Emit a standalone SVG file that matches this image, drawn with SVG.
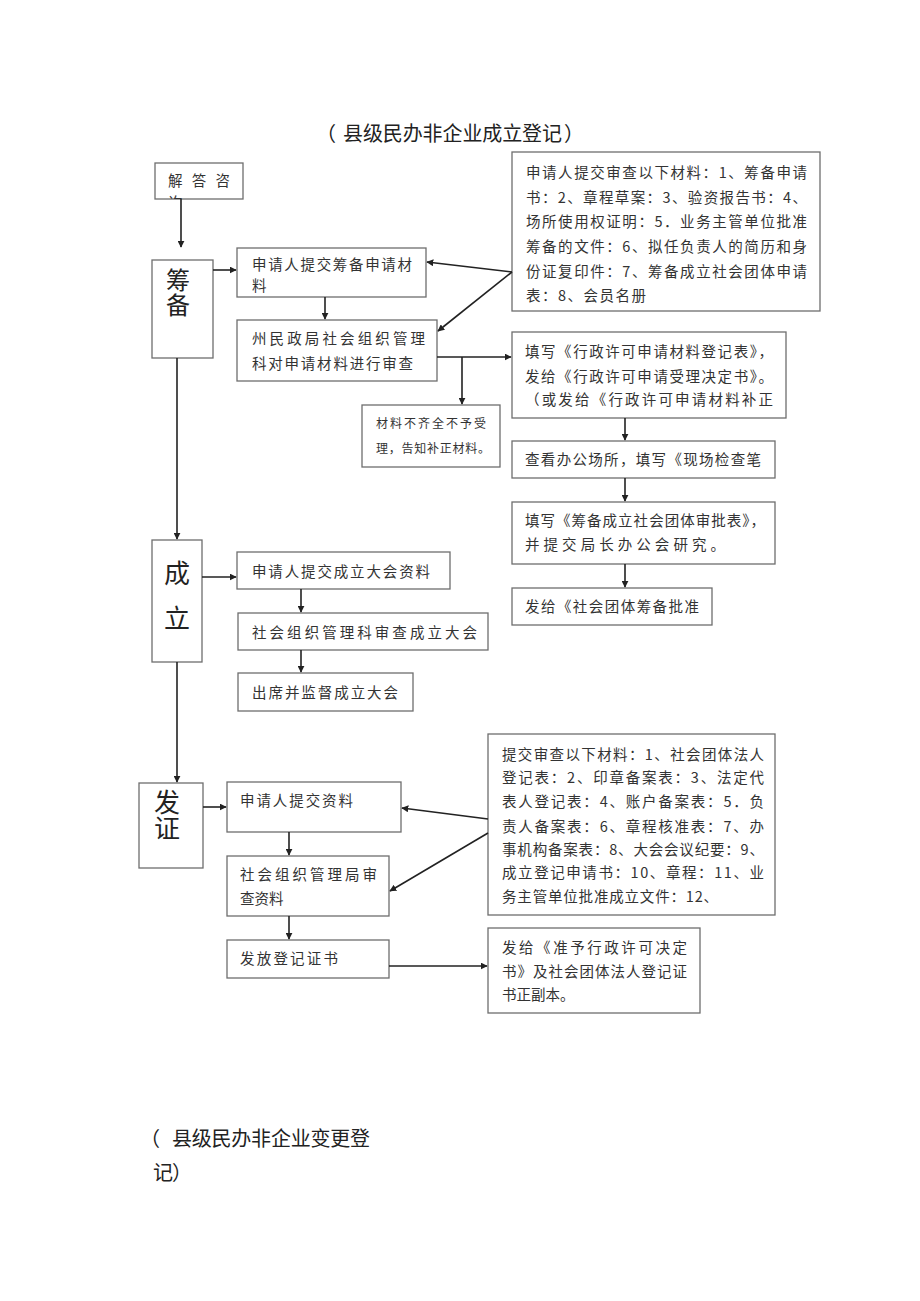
<svg xmlns="http://www.w3.org/2000/svg" width="920" height="1301" viewBox="0 0 920 1301">
<style>
.bx{fill:#fff;stroke:#6e6e6e;stroke-width:1.3}
.t{font-family:"Noto Sans CJK SC","Liberation Serif",serif;font-size:14.5px;fill:#333}
.sm{font-family:"Noto Sans CJK SC",serif;font-size:12px;fill:#333}
.s{font-family:"Noto Sans CJK SC",sans-serif;fill:#222}
.v{font-family:"Noto Sans CJK SC",sans-serif;fill:#222;writing-mode:tb;text-orientation:upright}
.ca{stroke:#222;stroke-width:1.6;fill:none;marker-end:url(#ah)}
</style>
<defs>
<marker id="ah" viewBox="0 0 10 10" refX="9" refY="5" markerWidth="7" markerHeight="7" markerUnits="userSpaceOnUse" orient="auto">
<path d="M0,0 L10,5 L0,10 z" fill="#222"/>
</marker>
<clipPath id="clipq"><rect x="155" y="163" width="88" height="36"/></clipPath>
</defs>
<rect width="920" height="1301" fill="#fff"/>
<g id="title">
<text class="s" x="316" y="141" font-size="20">（</text>
<text class="s" x="343" y="141" font-size="20" textLength="219">县级民办非企业成立登记</text>
<text class="s" x="564" y="141" font-size="20">）</text>
</g>

<g id="n-jieda">
<rect class="bx" x="155" y="163" width="88" height="36"/>
<g clip-path="url(#clipq)">
<text class="t" x="168" y="186" textLength="62">解答咨</text>
<text class="t" x="168" y="208">询</text>
</g>
</g>

<g id="n-choubei">
<rect class="bx" x="152" y="260" width="61" height="98"/>
<text class="v" x="178" y="268" font-size="24" letter-spacing="1">筹备</text>
</g>

<g id="n-sub1">
<rect class="bx" x="237" y="248" width="189" height="49"/>
<text class="t" x="252" y="270" textLength="160">申请人提交筹备申请材</text>
<text class="t" x="252" y="291">料</text>
</g>

<g id="n-mat1">
<rect class="bx" x="512" y="152" width="308" height="159"/>
<text class="t" x="526" y="178" textLength="281">申请人提交审查以下材料：1、筹备申请</text>
<text class="t" x="526" y="203" textLength="281">书：2、章程草案：3、验资报告书：4、</text>
<text class="t" x="526" y="227" textLength="281">场所使用权证明：5．业务主管单位批准</text>
<text class="t" x="526" y="252" textLength="281">筹备的文件：6、拟任负责人的简历和身</text>
<text class="t" x="526" y="277" textLength="281">份证复印件：7、筹备成立社会团体申请</text>
<text class="t" x="526" y="301" textLength="120">表：8、会员名册</text>
</g>

<g id="n-review1">
<rect class="bx" x="237" y="320" width="200" height="61"/>
<text class="t" x="252" y="344" textLength="173">州民政局社会组织管理</text>
<text class="t" x="252" y="369" textLength="161">科对申请材料进行审查</text>
</g>

<g id="n-reject">
<rect class="bx" x="362" y="405" width="138" height="62"/>
<text class="sm" x="376" y="428" textLength="110">材料不齐全不予受</text>
<text class="sm" x="376" y="453" textLength="114">理，告知补正材料。</text>
</g>

<g id="n-fill1">
<rect class="bx" x="512" y="332" width="274" height="86"/>
<text class="t" x="525" y="357" textLength="248">填写《行政许可申请材料登记表》，</text>
<text class="t" x="525" y="382" textLength="248">发给《行政许可申请受理决定书》。</text>
<text class="t" x="525" y="405" textLength="248">（或发给《行政许可申请材料补正</text>
</g>

<g id="n-check">
<rect class="bx" x="512" y="441" width="263" height="37"/>
<text class="t" x="525" y="465" textLength="236">查看办公场所，填写《现场检查笔</text>
</g>

<g id="n-fill2">
<rect class="bx" x="512" y="502" width="263" height="62"/>
<text class="t" x="525" y="526" textLength="240">填写《筹备成立社会团体审批表》，</text>
<text class="t" x="525" y="550" textLength="200">并提交局长办公会研究。</text>
</g>

<g id="n-approve">
<rect class="bx" x="512" y="588" width="200" height="37"/>
<text class="t" x="525" y="612" textLength="174">发给《社会团体筹备批准</text>
</g>

<g id="n-chengli">
<rect class="bx" x="152" y="540" width="50" height="122"/>
<text class="v" x="177" y="560" font-size="26" letter-spacing="19">成立</text>
</g>

<g id="n-sub2">
<rect class="bx" x="237" y="552" width="213" height="37"/>
<text class="t" x="252" y="577" textLength="178">申请人提交成立大会资料</text>
</g>

<g id="n-review2">
<rect class="bx" x="238" y="613" width="250" height="37"/>
<text class="t" x="252" y="638" textLength="225">社会组织管理科审查成立大会</text>
</g>

<g id="n-attend">
<rect class="bx" x="238" y="673" width="175" height="38"/>
<text class="t" x="252" y="698" textLength="146">出席并监督成立大会</text>
</g>

<g id="n-fazheng">
<rect class="bx" x="139" y="783" width="64" height="85"/>
<text class="v" x="167" y="789" font-size="26" letter-spacing="0">发证</text>
</g>

<g id="n-sub3">
<rect class="bx" x="227" y="782" width="174" height="50"/>
<text class="t" x="240" y="806" textLength="113">申请人提交资料</text>
</g>

<g id="n-mat2">
<rect class="bx" x="488" y="734" width="287" height="181"/>
<text class="t" x="502" y="760" textLength="262">提交审查以下材料：1、社会团体法人</text>
<text class="t" x="502" y="783" textLength="262">登记表：2、印章备案表：3、法定代</text>
<text class="t" x="502" y="807" textLength="262">表人登记表：4、账户备案表：5．负</text>
<text class="t" x="502" y="832" textLength="262">责人备案表：6、章程核准表：7、办</text>
<text class="t" x="502" y="855" textLength="262">事机构备案表：8、大会会议纪要：9、</text>
<text class="t" x="502" y="878" textLength="262">成立登记申请书：10、章程：11、业</text>
<text class="t" x="502" y="902" textLength="216">务主管单位批准成立文件：12、</text>
</g>

<g id="n-review3">
<rect class="bx" x="227" y="856" width="162" height="60"/>
<text class="t" x="240" y="880" textLength="137">社会组织管理局审</text>
<text class="t" x="240" y="904">查资料</text>
</g>

<g id="n-issue">
<rect class="bx" x="227" y="940" width="162" height="38"/>
<text class="t" x="240" y="964" textLength="98">发放登记证书</text>
</g>

<g id="n-give">
<rect class="bx" x="488" y="928" width="212" height="85"/>
<text class="t" x="502" y="953" textLength="185">发给《准予行政许可决定</text>
<text class="t" x="502" y="977" textLength="185">书》及社会团体法人登记证</text>
<text class="t" x="502" y="1000">书正副本。</text>
</g>

<g id="connectors">
<line class="ca" x1="181" y1="199" x2="181" y2="247"/>
<line class="ca" x1="213" y1="270" x2="236" y2="270"/>
<line class="ca" x1="512" y1="272" x2="427" y2="262"/>
<line class="ca" x1="512" y1="272" x2="438" y2="331"/>
<line class="ca" x1="325" y1="297" x2="325" y2="319"/>
<line class="ca" x1="437" y1="357" x2="511" y2="357"/>
<line class="ca" x1="462" y1="357" x2="462" y2="404"/>
<line class="ca" x1="625" y1="418" x2="625" y2="440"/>
<line class="ca" x1="625" y1="478" x2="625" y2="501"/>
<line class="ca" x1="625" y1="564" x2="625" y2="587"/>
<line class="ca" x1="177" y1="358" x2="177" y2="539"/>
<line class="ca" x1="202" y1="577" x2="236" y2="577"/>
<line class="ca" x1="301" y1="589" x2="301" y2="612"/>
<line class="ca" x1="301" y1="650" x2="301" y2="672"/>
<line class="ca" x1="177" y1="662" x2="177" y2="782"/>
<line class="ca" x1="203" y1="807" x2="226" y2="807"/>
<line class="ca" x1="488" y1="819" x2="402" y2="808"/>
<line class="ca" x1="488" y1="833" x2="390" y2="891"/>
<line class="ca" x1="289" y1="832" x2="289" y2="855"/>
<line class="ca" x1="289" y1="916" x2="289" y2="939"/>
<line class="ca" x1="389" y1="966" x2="487" y2="966"/>
</g>

<g id="footer">
<text class="s" x="140" y="1146" font-size="20">（</text>
<text class="s" x="172" y="1146" font-size="20" textLength="198">县级民办非企业变更登</text>
<text class="s" x="153" y="1180" font-size="20">记</text>
<text class="s" x="172" y="1180" font-size="20">）</text>
</g>
</svg>
